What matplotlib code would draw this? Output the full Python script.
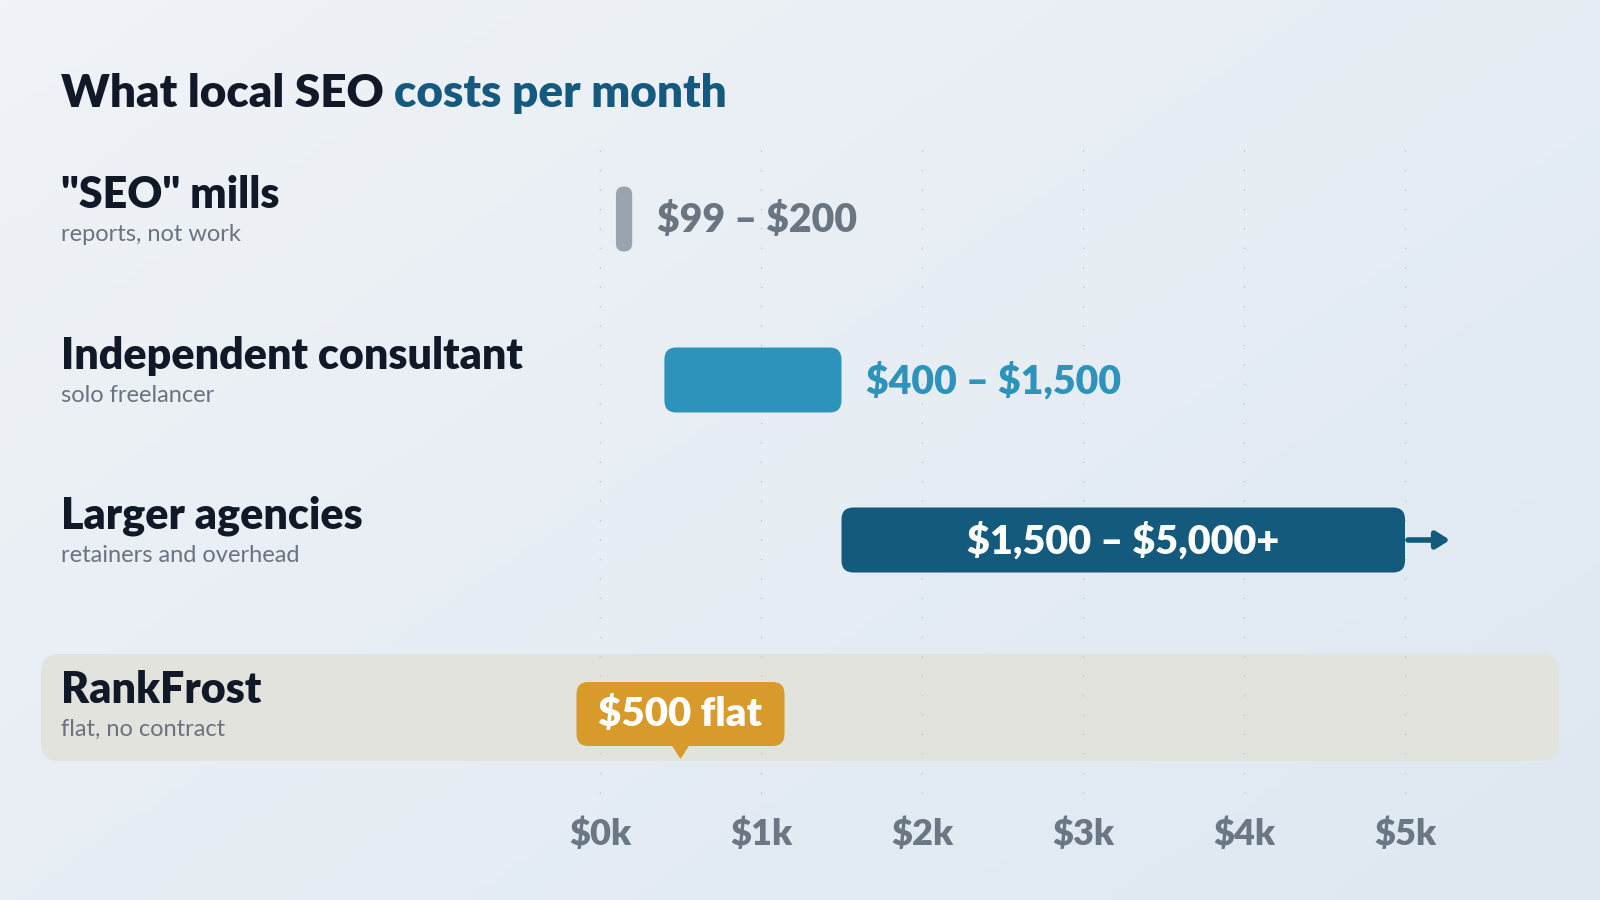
import numpy as np
import matplotlib
matplotlib.use("Agg")
import matplotlib.pyplot as plt
from matplotlib.patches import FancyBboxPatch, Polygon

# data
tiers = ['"SEO" mills', "Independent consultant", "Larger agencies"]
tier_notes = ["reports, not work", "solo freelancer", "retainers and overhead"]
tier_low = [99, 400, 1500]
tier_high = [200, 1500, 5000]
tier_labels = ["$99 – $200", "$400 – $1,500", "$1,500 – $5,000+"]
tier_colors = ["#9aa4b0", "#2e93bb", "#135a7c"]
label_colors = ["#6b7582", "#2e93bb", "#ffffff"]

brand = "RankFrost"
brand_note = "flat, no contract"
brand_price = 500
brand_label = "$500 flat"

ticks = [0, 1000, 2000, 3000, 4000, 5000]
tick_labels = ["$0k", "$1k", "$2k", "$3k", "$4k", "$5k"]

plt.rcParams["font.family"] = ["Lato", "DejaVu Sans"]

W, H = 1600, 900
fig = plt.figure(figsize=(16, 9), dpi=100)

# background axes in pixel units
bg = fig.add_axes([0, 0, 1, 1])
bg.set_xlim(0, W)
bg.set_ylim(H, 0)
bg.axis("off")
gx, gy = np.meshgrid(np.linspace(0, 1, 200), np.linspace(0, 1, 120))
t = 0.55 * gx + 0.45 * gy
c0 = np.array([0xf0, 0xf3, 0xf7]) / 255
c1 = np.array([0xde, 0xe8, 0xf1]) / 255
grad = c0[None, None, :] * (1 - t[..., None]) + c1[None, None, :] * t[..., None]
bg.imshow(grad, extent=[0, W, H, 0], aspect="auto", zorder=0)

# title
tt = bg.text(61, 107, "What local SEO ", fontsize=33, fontweight="heavy",
             color="#111827", va="baseline", ha="left")
bg.annotate("costs per month", xy=(1, 0), xycoords=tt, xytext=(0, 0),
            textcoords="offset points", fontsize=33, fontweight="heavy",
            color="#155a7e", va="bottom", ha="left")

row_y = [219, 380, 540, 714]

# highlight band for the brand row
band = FancyBboxPatch((41, 654), 1518, 107,
                      boxstyle="round,pad=0,rounding_size=18",
                      fc="#e2e3dc", ec="none", zorder=1)
bg.add_patch(band)

names = tiers + [brand]
notes = tier_notes + [brand_note]
for y, name, note in zip(row_y, names, notes):
    bg.text(61, y - 11, name, fontsize=31, fontweight="heavy",
            color="#111827", va="baseline", ha="left", zorder=3)
    bg.text(61, y + 22, note, fontsize=17, color="#6b7280",
            va="baseline", ha="left", zorder=3)

# chart axes: x in dollars, y in pixels
x0_px, px_per_k = 600, 161
ax = fig.add_axes([x0_px / W, 0, 5 * px_per_k / W, 1])
ax.set_xlim(0, 5000)
ax.set_ylim(H, 0)
ax.axis("off")
ax.patch.set_alpha(0)

sx = px_per_k / 1000.0  # pixels per dollar

for x in ticks:
    ax.plot([x, x], [150, 795], color="#c0c7d0", lw=1.0,
            ls=(0, (1, 13)), zorder=1, clip_on=False)

bar_h = 65
for i, (lo, hi, lab, col, lcol) in enumerate(zip(tier_low, tier_high, tier_labels,
                                                 tier_colors, label_colors)):
    y = row_y[i]
    r = 8 if (hi - lo) * sx < 30 else 12
    p = FancyBboxPatch((lo, y - bar_h / 2), hi - lo, bar_h,
                       boxstyle=f"round,pad=0,rounding_size={r / sx}",
                       mutation_aspect=sx, fc=col, ec="none", zorder=3,
                       clip_on=False)
    ax.add_patch(p)
    if lcol == "#ffffff":
        ax.text((lo + hi) / 2, y + 1, lab, fontsize=28.5, fontweight="heavy",
                color=lcol, ha="center", va="center", zorder=4, parse_math=False)
        ax.annotate("", xy=(hi + 45 / sx, y), xytext=(hi + 3 / sx, y),
                    arrowprops=dict(arrowstyle="-|>,head_length=0.8,head_width=0.5",
                                    color=col, lw=4, shrinkA=0, shrinkB=0),
                    zorder=4, annotation_clip=False)
    else:
        ax.annotate(lab, xy=(hi, y + 1), xytext=(18, 0), textcoords="offset points",
                    fontsize=28.3, fontweight="heavy", color=lcol,
                    ha="left", va="center", zorder=4, annotation_clip=False,
                    parse_math=False)

# brand badge
by = row_y[3]
bw = 208
p = FancyBboxPatch((brand_price - 104 / sx, by - 32), bw / sx, 64,
                   boxstyle=f"round,pad=0,rounding_size={12 / sx}",
                   mutation_aspect=sx, fc="#d89b2b", ec="none", zorder=4,
                   clip_on=False)
ax.add_patch(p)
ax.add_patch(Polygon([[brand_price - 9 / sx, by + 31], [brand_price + 9 / sx, by + 31],
                      [brand_price, by + 45]], closed=True, fc="#d89b2b",
                     ec="none", zorder=4, clip_on=False))
ax.text(brand_price, by + 1, brand_label, fontsize=29, fontweight="heavy",
        color="white", ha="center", va="center", zorder=5, parse_math=False)

for x, lab in zip(ticks, tick_labels):
    ax.text(x, 834, lab, fontsize=26, fontweight="heavy", color="#6b7785",
            ha="center", va="center", zorder=3, parse_math=False)

fig.savefig("out.png", dpi=100)
